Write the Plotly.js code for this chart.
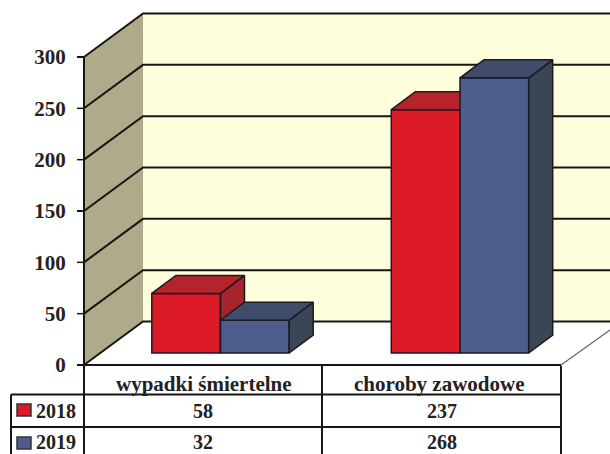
<!DOCTYPE html>
<html><head><meta charset="utf-8">
<script src="https://cdn.plot.ly/plotly-3.0.1.min.js"></script>
<style>html,body{margin:0;padding:0;background:#fff;overflow:hidden}#c{width:610px;height:454px}</style>
</head><body><div id="c"></div>
<script>
const categories = ['wypadki śmiertelne', 'choroby zawodowe'];
const seriesNames = ['2018', '2019'];
const s2018 = [58, 237];
const s2019 = [32, 268];
const tickVals = [0, 50, 100, 150, 200, 250, 300];

(function () {
const W = 610, H = 454;
const pxPerUnitX = 239.5, x0Px = 220.5;
const pxPerUnitY = 1.0267, y0Px = 365;
const xRange = [(0 - x0Px) / pxPerUnitX, (W - x0Px) / pxPerUnitX];
const yRange = [(y0Px - H) / pxPerUnitY, y0Px / pxPerUnitY];
const X = p => (p - x0Px) / pxPerUnitX;
const dxW = 59 / pxPerUnitX, dyW = 43.5 / pxPerUnitY;      // wall depth
const dxB = 24 / pxPerUnitX, dyB = 18 / pxPerUnitY;        // bar depth
const lift = 12 / pxPerUnitY;                              // bar base above the front edge
const barW = 68.7 / pxPerUnitX;
const xL = X(84), xBack = xL + dxW, xRight = xRange[1];
const maxTick = tickVals[tickVals.length - 1];
const INK = '#161616', EDGE = '#1a1a24';

function poly(x, y, fill, axes, lw, lc) {
  return Object.assign({type:'scatter', mode:'lines', x:x.concat(x[0]), y:y.concat(y[0]), fill:'toself',
    fillcolor:fill, line:{color:lc||fill, width:lw===undefined?0:lw}, hoverinfo:'skip', showlegend:false}, axes);
}
const base = {xaxis:'x', yaxis:'y'};
const traces = [];
// walls
traces.push(poly([xBack, xRight, xRight, xBack], [dyW, dyW, maxTick + dyW, maxTick + dyW], '#FFFEDC', base));
traces.push(poly([xL, xBack, xBack, xL], [0, dyW, maxTick + dyW, maxTick], '#AFAB8A', base));
// gridlines run along the side wall and the back wall
tickVals.forEach(v => traces.push(Object.assign({type:'scatter', mode:'lines', x:[xL, xBack, xRight],
  y:[v, v + dyW, v + dyW], line:{color:INK, width:2}, hoverinfo:'skip', showlegend:false}, base)));

function addSeries(vals, center, cols, axes, name) {
  traces.push(Object.assign({type:'bar', name:name, x:center, y:vals, base:vals.map(() => lift), width:barW,
    marker:{color:cols[0], line:{color:EDGE, width:1.5}}, hoverinfo:'skip', showlegend:false}, axes));
  vals.forEach((v, i) => {
    const l = center[i] - barW / 2, r = center[i] + barW / 2, b = lift, t = lift + v;
    traces.push(poly([r, r + dxB, r + dxB, r], [b, b + dyB, t + dyB, t], cols[2], axes, 1.5, EDGE));
    traces.push(poly([l, l + dxB, r + dxB, r], [t, t + dyB, t + dyB, t], cols[1], axes, 1.5, EDGE));
  });
}
addSeries(s2018, categories.map((c, i) => i - barW / 2), ['#DD1A27', '#B5232B', '#A8242B'], {xaxis:'x2', yaxis:'y2'}, seriesNames[0]);
addSeries(s2019, categories.map((c, i) => i + barW / 2), ['#4E5D8E', '#3F4D6A', '#3A4556'], {xaxis:'x3', yaxis:'y3'}, seriesNames[1]);

const px = p => p / W, py = p => 1 - p / H;
const line = (x1, y1, x2, y2, c, w) => ({type:'line', xref:'paper', yref:'paper', x0:px(x1), y0:py(y1), x1:px(x2), y1:py(y2),
  line:{color:c||INK, width:w||2}, layer:'above'});
const shapes = [
  line(84, 57, 84, 454),
  line(84, 365, 561, 365), line(11, 394.5, 561, 394.5), line(11, 427, 561, 427),
  line(11, 394.5, 11, 454), line(322, 365, 322, 454), line(561, 366, 561, 454),
  line(561, 365, 610, 330, '#666', 1.2),
  {type:'rect', xref:'paper', yref:'paper', x0:px(17), x1:px(31), y0:py(404), y1:py(416), fillcolor:'#DD1A27', line:{color:'#333', width:1.5}, layer:'above'},
  {type:'rect', xref:'paper', yref:'paper', x0:px(17), x1:px(31), y0:py(437), y1:py(449), fillcolor:'#4E5D8E', line:{color:'#333', width:1.5}, layer:'above'}
];
// axis tick marks, placed on the value axis
tickVals.forEach(v => shapes.push({type:'line', xref:'paper', yref:'y', x0:px(77), x1:px(84), y0:v, y1:v,
  line:{color:INK, width:1.5}, layer:'above'}));
const SERIF = 'Liberation Serif, serif';
const note = (text, x, y, size, anchor) => ({text:text, xref:'paper', yref:'paper', x:px(x), y:py(y), showarrow:false,
  xanchor:anchor||'center', yanchor:'middle', font:{family:SERIF, size:size, color:'#222'}});
const colC = [203, 442];
const catC = [204, 439];
const annotations = [];
categories.forEach((c, i) => annotations.push(note('<b>' + c + '</b>', catC[i], 384, 21)));
s2018.forEach((v, i) => annotations.push(note('<b>' + v + '</b>', colC[i], 411, 20)));
s2019.forEach((v, i) => annotations.push(note('<b>' + v + '</b>', colC[i], 442, 20)));
annotations.push(note('<b>' + seriesNames[0] + '</b>', 34, 411, 20, 'left'));
annotations.push(note('<b>' + seriesNames[1] + '</b>', 34, 442, 20, 'left'));

const hidden = (over) => ({overlaying:over, range: over === 'x' ? xRange : yRange, visible:false, fixedrange:true});
const layout = {
  width:W, height:H, margin:{l:0, r:0, t:0, b:0}, paper_bgcolor:'#fff', plot_bgcolor:'#fff',
  showlegend:false, hovermode:false, barmode:'overlay',
  xaxis:{range:xRange, visible:false, fixedrange:true},
  yaxis:{range:yRange, anchor:'free', position:84 / W, side:'left', tickmode:'array', tickvals:tickVals,
    ticks:'outside', ticklen:7, tickwidth:1.5, tickcolor:INK, showgrid:false, zeroline:false, showline:false,
    ticklabelstandoff:7, tickfont:{family:SERIF, size:21, color:'#222', weight:'bold'}, fixedrange:true},
  xaxis2:Object.assign(hidden('x'), {anchor:'y2'}), yaxis2:Object.assign(hidden('y'), {anchor:'x2'}),
  xaxis3:Object.assign(hidden('x'), {anchor:'y3'}), yaxis3:Object.assign(hidden('y'), {anchor:'x3'}),
  shapes:shapes, annotations:annotations
};
Plotly.newPlot('c', traces, layout, {displayModeBar:false, staticPlot:true});
})();
</script></body></html>
